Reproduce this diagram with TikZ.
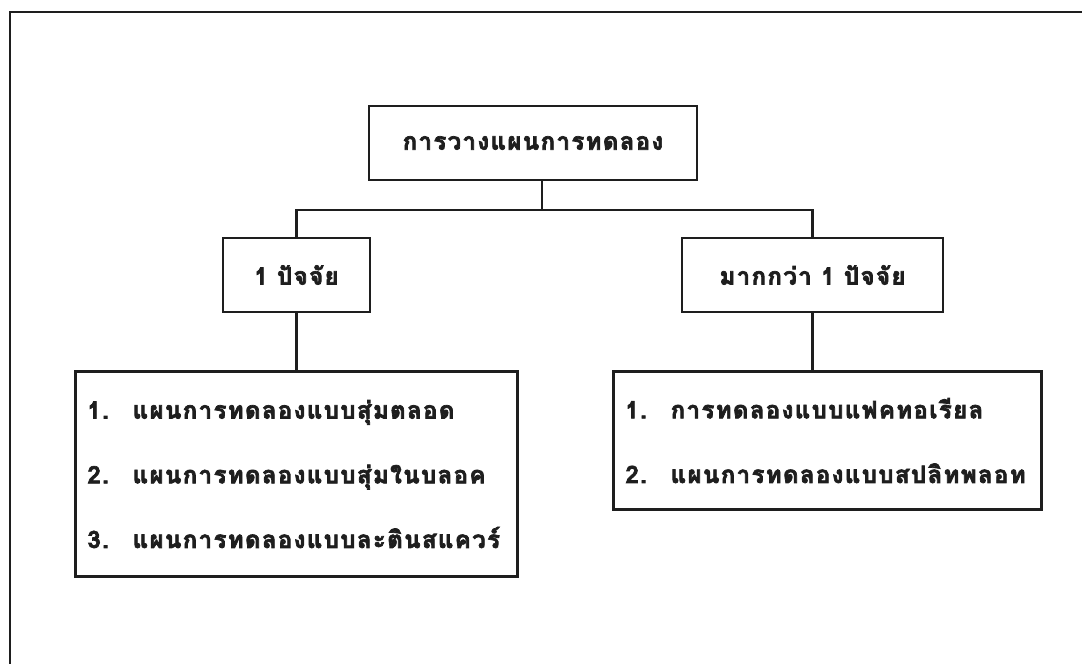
\documentclass[tikz,border=0pt]{standalone}
\usepackage{fontspec}
\usetikzlibrary{positioning}
\newfontfamily\thaifont[Script=Thai,LetterSpace=6,BoldFeatures={FakeBold=3}]{Loma}
\definecolor{inkgray}{HTML}{1E1E1E}
\newcommand{\itemno}[1]{\mbox{#1.\quad}}

\begin{document}
\begin{tikzpicture}
    [x=0.025cm, y=-0.025cm,
    node distance=1.425cm,
    link/.style={inkgray,
                 line width=1.5pt},
    box/.style={rectangle,
                draw=inkgray,
                line width=1.8pt,
                inner sep=0mm,
                minimum height=1.85cm,
                text=inkgray,
                font=\thaifont\bfseries\fontsize{17}{20}\selectfont},
    listbox/.style={box,
                    align=left,
                    inner xsep=3mm,
                    font=\thaifont\bfseries\fontsize{17}{46}\selectfont}]
    \useasboundingbox (0,0) rectangle (1082,663);
    % page frame, cut off at the right and bottom
    \draw[inkgray, line width=2.1pt] (10,680) |- (1100,12);

    \node[box, minimum width=8.2cm] (plan) at (533,143) {การวางแผนการทดลอง};
    \node[box, minimum width=3.675cm] (one) at (296.5,275) {1 ปัจจัย};
    \node[box, minimum width=6.525cm] (many) at (812.5,275) {มากกว่า 1 ปัจจัย};
    \node[listbox,
          text width=10.45cm,
          minimum height=5.125cm,
          below=of one] (single)
          {\itemno{1}แผนการทดลองแบบสุ่มตลอด\\
           \itemno{2}แผนการทดลองแบบสุ่มในบลอค\\
           \itemno{3}แผนการทดลองแบบละตินสแควร์};
    \node[listbox,
          text width=10.1cm,
          minimum height=3.45cm,
          below=of many,
          xshift=0.375cm] (multi)
          {\itemno{1}การทดลองแบบแฟคทอเรียล\\
           \itemno{2}แผนการทดลองแบบสปลิทพลอท};

    \coordinate (split) at (542,210);
    \draw[link] (split) -- (split |- plan.south);
    \draw[link] (one.north) |- (split) -| (many.north);
    \draw[link] (one.south) -- (one.south |- single.north);
    \draw[link] (many.south) -- (many.south |- multi.north);
\end{tikzpicture}
\end{document}
